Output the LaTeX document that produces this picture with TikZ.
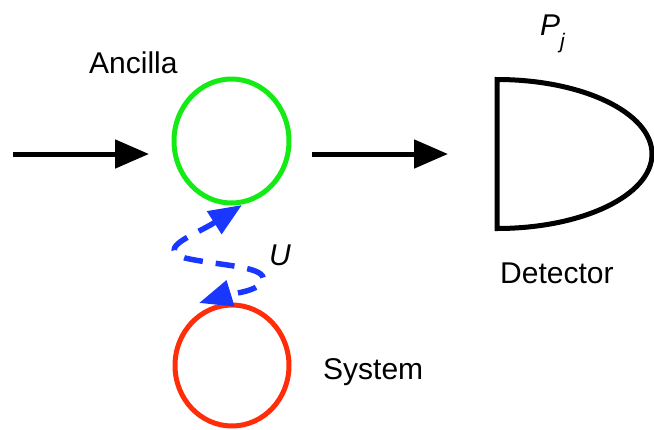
\documentclass[tikz,border=0pt]{standalone}
\usepackage{fontspec}
\setmainfont{Liberation Sans}
\usetikzlibrary{arrows.meta}
\definecolor{ancgreen}{RGB}{20,235,20}
\definecolor{sysred}{RGB}{255,45,10}
\definecolor{ublue}{RGB}{25,55,255}
\tikzset{
  lbl/.style={inner sep=0pt, anchor=base west, font=\fontsize{30}{36}\selectfont},
  beam/.style={line width=5pt, -{Triangle[length=34pt,width=28pt]}},
  qubit/.style={line width=5pt},
  coupling/.style={ublue, line width=5.5pt, dash pattern=on 19pt off 13pt,
    {Triangle[length=33pt,width=26pt]}-{Triangle[length=33pt,width=26pt]}}
}
\begin{document}
\begin{tikzpicture}[x=1pt,y=-1pt]
\useasboundingbox (0,0) rectangle (654,429);
% ancilla and system
\draw[qubit, ancgreen] (231.5,141) ellipse [x radius=57.5, y radius=62];
\draw[qubit, sysred] (232,365.5) ellipse [x radius=57, y radius=60.5];
\coordinate (ancc) at (231.5,141);
\coordinate (sysc) at (232,365.5);
% beam
\coordinate (in) at (13,154);
\coordinate (inend) at (149,154);
\coordinate (out) at (312,154);
\coordinate (outend) at (448,154);
\draw[beam] (in) -- (inend);
\draw[beam] (out) -- (outend);
% detector
\draw[line width=5pt, line join=miter] (497,79.5) coordinate (dtop)
  arc[start angle=-90, end angle=90, x radius=155, y radius=74.5] coordinate (dbot) -- cycle;
% coupling
\coordinate (ua) at (242,205);
\coordinate (sa) at (199,303);
\draw[coupling] (ua) .. controls (195,235) and (155,248) .. (185,258)
  .. controls (220,266) and (268,266) .. (263,281)
  .. controls (258,292) and (225,295) .. (sa);
% labels
\node[lbl] (anc) at (89,73) {Ancilla};
\node[lbl] (sys) at (323,379) {System};
\node[lbl] (det) at (500,283) {Detector};
\node[lbl] (pj) at (540,35) {\itshape P\raisebox{-13pt}{\fontsize{21}{21}\selectfont j}};
\node[lbl] (u) at (269,265) {\itshape U};
\end{tikzpicture}
\end{document}
